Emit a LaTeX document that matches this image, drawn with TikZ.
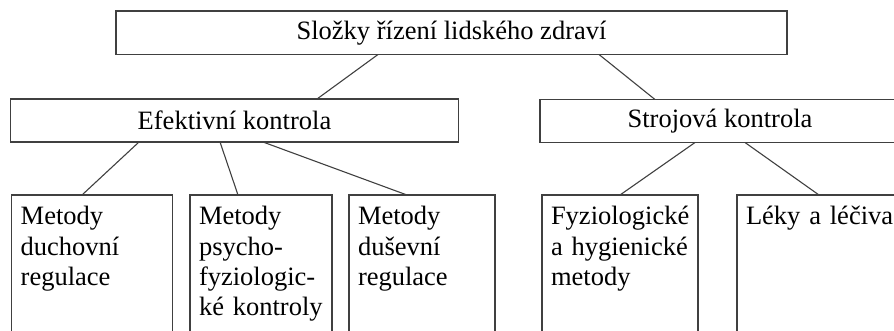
\documentclass[tikz,border=0pt]{standalone}
\usepackage{fontspec}
\setmainfont{Liberation Serif}
\usepackage{tikz}
\usetikzlibrary{positioning}
\hyphenpenalty=10000
\tikzstyle{rootbox} = [rectangle, draw, text centered, minimum width=671pt, minimum height=43.5pt]
\tikzstyle{midbox} = [rectangle, draw, text centered, minimum height=43pt]
\tikzstyle{leafbox} = [rectangle, draw, anchor=north west, align=left,
    inner xsep=9pt, inner ysep=11.5pt, text depth=120pt]
\tikzstyle{link} = [draw, line width=1.1pt, black!75]

\begin{document}
\begin{tikzpicture}[x=1pt,y=1pt,every node/.style={font=\fontsize{26.5}{30.3}\selectfont,line width=1.1pt,draw=black!75,outer sep=0pt}]

\useasboundingbox (0,0) rectangle (894,-330);

\node [rootbox] (root) at (451.5,-32.75) {Složky řízení lidského zdraví};

\node [midbox, minimum width=447.6pt] (eff) at (234.5,-120.5) {Efektivní kontrola};
\node [midbox, minimum width=360pt] (stroj) at (720,-121) {Strojová kontrola};

% bottom row
\node [leafbox, text width=143pt] (duch) at (11.7,-195) {Metody\\duchovní\\regulace};
\node [leafbox, text width=124pt, right=17.3pt of duch.north east, anchor=north west] (psych) {Metody\\psycho-\\fyziologic-\\ké kontroly};
\node [leafbox, text width=128pt, right=17pt of psych.north east, anchor=north west] (dusev) {Metody\\duševní\\regulace};
\node [leafbox, text width=138pt, right=47pt of dusev.north east, anchor=north west] (fyz) {Fyziologické\\a hygienické\\metody};
\node [leafbox, text width=170pt, right=39pt of fyz.north east, anchor=north west] (leky) {Léky a léčiva};

\draw [link] ([xshift=262pt]root.south west) -- ([xshift=306.3pt]eff.north west);
\draw [link] ([xshift=483pt]root.south west) -- ([xshift=115pt]stroj.north west);

\draw [link] ([xshift=128.3pt]eff.south west) -- ([xshift=70.3pt]duch.north west);
\draw [link] ([xshift=209.3pt]eff.south west) -- ([xshift=48pt]psych.north west);
\draw [link] ([xshift=252.3pt]eff.south west) -- ([xshift=58pt]dusev.north west);

\draw [link] ([xshift=155pt]stroj.south west) -- ([xshift=78pt]fyz.north west);
\draw [link] ([xshift=205pt]stroj.south west) -- ([xshift=82pt]leky.north west);

\end{tikzpicture}
\end{document}
